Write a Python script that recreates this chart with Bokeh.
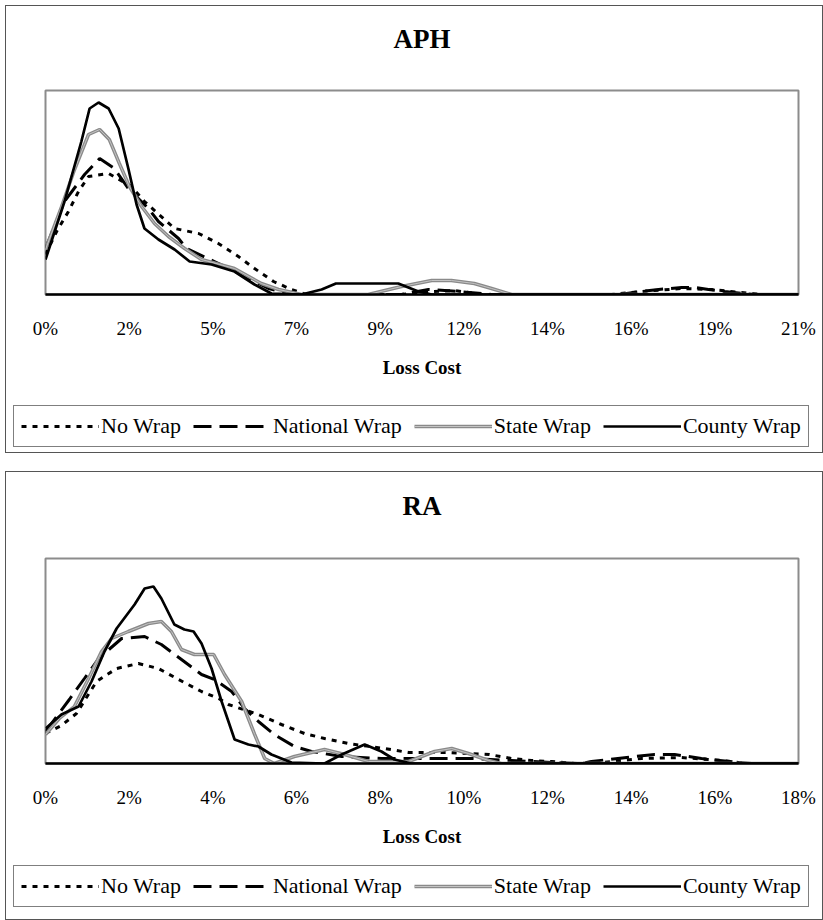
import numpy as np
from bokeh.plotting import figure
from bokeh.layouts import column
from bokeh.models import (Range1d, FixedTicker, CustomJSTickFormatter, Legend, LegendItem, Title)
from bokeh.embed import file_html
from bokeh.resources import INLINE

# ---------------- data (x in % loss cost, y = relative density) ----------------
series_names = ["No Wrap", "National Wrap", "State Wrap", "County Wrap"]

# APH panel
aph_xmax = 21
aph_tick_labels = ["0%", "2%", "5%", "7%", "9%", "12%", "14%", "16%", "19%", "21%"]
aph_nowrap_x = [0.0, 0.31, 0.64, 0.92, 1.2, 1.76, 2.4, 2.76, 3.6, 4.27, 4.82, 5.38, 5.83, 6.36, 6.86, 7.28,
                9.93, 10.77, 11.41, 12.16, 15.78, 16.62, 17.74, 18.57, 19.41, 19.97, 21.0]
aph_nowrap_y = [40, 63, 83, 103, 118, 121, 108, 93, 66, 61, 51, 38, 26, 13, 5, 0,
                0, 3, 4, 0, 0, 3, 6, 5, 2, 0, 0]
aph_national_x = [0.0, 0.53, 1.09, 1.51, 1.92, 2.31, 2.87, 3.15, 3.71, 3.93, 4.71, 5.47, 6.22, 6.86,
                  9.93, 10.68, 11.52, 12.44, 15.98, 16.62, 17.1, 17.74, 18.1, 18.49, 18.94, 19.77, 21.0]
aph_national_y = [46, 93, 120, 136, 126, 106, 86, 73, 56, 46, 33, 20, 6, 0,
                  0, 5, 3, 0, 0, 3, 5, 7, 7, 5, 3, 0, 0]
aph_state_x = [0.0, 0.45, 0.81, 1.2, 1.51, 1.78, 2.06, 2.34, 2.68, 3.04, 3.43, 3.88, 4.35, 5.27, 6.02, 6.5,
               7.14, 9.0, 9.93, 10.77, 11.32, 11.96, 12.44, 13.0, 21.0]
aph_state_y = [45, 88, 125, 160, 165, 155, 131, 108, 88, 71, 58, 46, 35, 26, 11, 5,
               0, 0, 8, 14, 14, 11, 6, 0, 0]
aph_county_x = [0.0, 0.53, 1.0, 1.23, 1.48, 1.76, 2.04, 2.31, 2.54, 2.76, 3.15, 3.6, 4.02, 4.63, 5.27, 5.83,
                6.3, 7.14, 7.7, 8.1, 9.84, 10.4, 10.77, 21.0]
aph_county_y = [35, 93, 153, 186, 192, 186, 166, 126, 90, 66, 55, 45, 33, 30, 23, 10,
                1, 0, 5, 11, 11, 3, 0, 0]

# RA panel
ra_xmax = 18
ra_tick_labels = ["0%", "2%", "4%", "6%", "8%", "10%", "12%", "14%", "16%", "18%"]
ra_nowrap_x = [0.0, 0.38, 0.74, 1.22, 1.7, 2.22, 2.7, 3.18, 3.73, 4.14, 4.37, 5.09, 5.64, 6.19, 6.67, 7.24,
               8.1, 8.68, 9.63, 10.61, 11.14, 11.62, 12.1, 12.65, 13.29, 14.25, 15.2, 16.16, 16.76, 18.0]
ra_nowrap_y = [30, 38, 50, 82, 95, 100, 95, 84, 72, 65, 59, 49, 39, 30, 25, 20,
               15, 11, 11, 9, 5, 3, 2, 0, 1, 5, 6, 3, 0, 0]
ra_national_x = [0.0, 0.57, 0.93, 1.27, 1.82, 2.37, 2.77, 3.25, 3.73, 4.04, 4.45, 4.76, 5.09, 5.47, 5.95,
                 6.36, 7.08, 8.03, 9.23, 10.18, 11.14, 12.1, 12.8, 13.05, 14.08, 14.56, 15.04, 15.68, 16.57,
                 16.88, 18.0]
ra_national_y = [32, 64, 85, 105, 125, 127, 119, 104, 89, 84, 72, 55, 42, 29, 17,
                 12, 7, 5, 5, 5, 3, 1, 0, 2, 7, 9, 9, 5, 1, 0, 0]
ra_state_x = [0.0, 0.33, 0.69, 1.03, 1.34, 1.58, 1.98, 2.46, 2.77, 3.01, 3.25, 3.56, 4.02, 4.28, 4.69, 5.0,
              5.24, 5.47, 5.95, 6.67, 7.15, 7.72, 8.68, 9.3, 9.71, 10.11, 10.59, 10.9, 18.0]
ra_state_y = [29, 45, 57, 85, 112, 125, 132, 140, 142, 132, 114, 109, 109, 89, 62, 29,
              5, 0, 7, 14, 9, 2, 2, 12, 15, 10, 3, 0, 0]
ra_county_x = [0.0, 0.38, 0.79, 1.1, 1.41, 1.7, 2.13, 2.37, 2.58, 2.77, 3.08, 3.32, 3.54, 3.73, 3.97, 4.21,
               4.52, 4.85, 5.09, 5.4, 5.88, 6.67, 7.08, 7.63, 8.03, 8.34, 8.75, 18.0]
ra_county_y = [35, 49, 57, 82, 112, 135, 159, 175, 177, 165, 139, 134, 132, 120, 95, 62,
               24, 19, 17, 9, 1, 0, 9, 19, 12, 4, 0, 0]

SERIF = "Liberation Serif"
BORDER = "1px solid #555555"

STYLES = [
    dict(line_color="black", line_width=3, line_dash="5 6"),
    dict(line_color="black", line_width=3, line_dash="18 8"),
    dict(line_color="#8a8a8a", line_width=3.5),
    dict(line_color="black", line_width=2.7),
]
STATE_INNER = dict(line_color="#c4c4c4", line_width=1)


def draw_series(p, data):
    rs = []
    for i, (xs, ys) in enumerate(data):
        r = p.line(xs, ys, **STYLES[i])
        group = [r]
        if i == 2:
            group.append(p.line(xs, ys, **STATE_INNER))
        rs.append(group)
    return rs


def make_panel(title, xmax, ymax, tick_labels, data, height, top_border, bottom_border, gap):
    p = figure(width=818, height=height, output_backend="svg", toolbar_location=None,
               x_range=Range1d(0, xmax), y_range=Range1d(0, ymax),
               min_border_left=39, min_border_right=26,
               min_border_top=top_border, min_border_bottom=bottom_border,
               background_fill_color="white", border_fill_color="white")
    p.frame_align = False
    p.styles = {"border": BORDER, "border-bottom": "none"}
    p.title.text = title
    p.title.align = "center"
    p.title.text_font = SERIF
    p.title.text_font_size = "27px"
    p.title.text_font_style = "bold"
    p.title.text_color = "black"
    p.title.standoff = 10
    # empty spacer between the title and the plot area
    p.add_layout(Title(text=" ", text_font_size="1px", standoff=gap), "above")

    p.grid.visible = False
    p.yaxis.visible = False
    p.outline_line_color = "#8c8c8c"
    p.outline_line_width = 2

    ticks = list(np.linspace(0, xmax, len(tick_labels)))
    p.xaxis.ticker = FixedTicker(ticks=ticks)
    p.xaxis.formatter = CustomJSTickFormatter(args=dict(labels=tick_labels),
                                              code="return labels[index];")
    p.xaxis.axis_line_color = "black"
    p.xaxis.axis_line_width = 2.5
    p.xaxis.major_tick_line_color = None
    p.xaxis.minor_tick_line_color = None
    p.xaxis.major_tick_out = 0
    p.xaxis.major_label_standoff = 23
    p.xaxis.major_label_text_font = SERIF
    p.xaxis.major_label_text_font_size = "19px"
    p.xaxis.major_label_text_color = "black"
    p.xaxis.axis_label = "Loss Cost"
    p.xaxis.axis_label_text_font = SERIF
    p.xaxis.axis_label_text_font_size = "19px"
    p.xaxis.axis_label_text_font_style = "bold"
    p.xaxis.axis_label_text_color = "black"
    p.xaxis.axis_label_standoff = 15

    draw_series(p, data)
    return p


def make_legend_strip(data, height, legend_bottom):
    # the series are drawn outside this strip's y-range: only the legend keys show
    lf = figure(width=818, height=height, output_backend="svg", toolbar_location=None,
                x_range=Range1d(0, 1), y_range=Range1d(1000, 1001),
                x_axis_type=None, y_axis_type=None,
                min_border=0, min_border_left=0, min_border_right=0,
                min_border_top=0, min_border_bottom=0,
                background_fill_color="white", border_fill_color="white")
    lf.frame_align = False
    lf.styles = {"border": BORDER, "border-top": "none"}
    lf.outline_line_color = None
    lf.grid.visible = False
    groups = draw_series(lf, data)
    legend = Legend(items=[LegendItem(label=series_names[i], renderers=groups[i]) for i in range(4)],
                    orientation="horizontal", location=(7, legend_bottom))
    legend.label_text_font = SERIF
    legend.label_text_font_size = "22px"
    legend.label_text_color = "black"
    legend.glyph_width = 78
    legend.glyph_height = 20
    legend.label_standoff = 2
    legend.spacing = 12
    legend.padding = 7
    legend.margin = 0
    legend.border_line_color = "black"
    legend.border_line_width = 1
    legend.background_fill_color = "white"
    lf.add_layout(legend)
    return lf


aph_data = [(aph_nowrap_x, aph_nowrap_y), (aph_national_x, aph_national_y),
            (aph_state_x, aph_state_y), (aph_county_x, aph_county_y)]
ra_data = [(ra_nowrap_x, ra_nowrap_y), (ra_national_x, ra_national_y),
           (ra_state_x, ra_state_y), (ra_county_x, ra_county_y)]

p1 = make_panel("APH", aph_xmax, 204, aph_tick_labels, aph_data,
                height=390, top_border=84, bottom_border=102, gap=29)
l1 = make_legend_strip(aph_data, 58, 6)
p2 = make_panel("RA", ra_xmax, 205, ra_tick_labels, ra_data,
                height=391, top_border=86, bottom_border=100, gap=30)
l2 = make_legend_strip(ra_data, 58, 13)

layout = column(column(p1, l1, spacing=0), column(p2, l2, spacing=0),
                spacing=18, margin=(5, 0, 0, 5))
open("out.html", "w").write(file_html(layout, INLINE))
